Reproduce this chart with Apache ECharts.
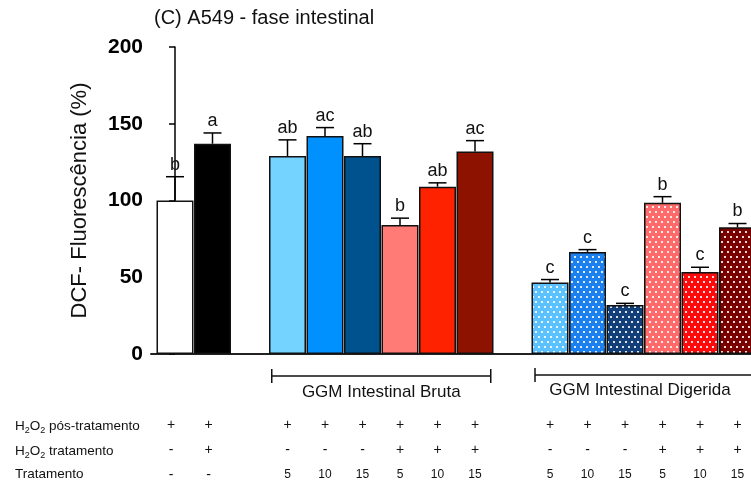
<!DOCTYPE html>
<html><head><meta charset="utf-8">
<script src="https://cdn.jsdelivr.net/npm/echarts@6/dist/echarts.min.js"></script>
<style>html,body{margin:0;padding:0;background:#fff}#c{width:751px;height:486px}</style>
</head><body><div id="c"></div>
<script>
// slot order along the x axis (null = empty gap between groups)
const slots = ['Controle','H2O2',null,
  'Bruta 5','Bruta 10','Bruta 15','Bruta+H2O2 5','Bruta+H2O2 10','Bruta+H2O2 15',null,
  'Digerida 5','Digerida 10','Digerida 15','Digerida+H2O2 5','Digerida+H2O2 10','Digerida+H2O2 15'];
const means   = [100, 137, 129, 142, 129, 84, 109, 132, 46.5, 66.5, 32, 98.5, 53.5, 82.5];
const sem     = [15.5, 7, 10.5, 5.5, 8, 4.5, 2.5, 7, 2, 1.5, 1, 4, 3, 2.5];
const letters = ['b','a','ab','ac','ab','b','ab','ac','c','c','c','b','c','b'];
const rowPosTrat = ['+','+','+','+','+','+','+','+','+','+','+','+','+','+'];
const rowTrat    = ['-','+','-','-','-','+','+','+','-','-','-','+','+','+'];
const rowDose    = ['-','-','5','10','15','5','10','15','5','10','15','5','10','15'];
const yTicks = [0, 50, 100, 150, 200];
const groupBruta = 'GGM Intestinal Bruta';
const groupDigerida = 'GGM Intestinal Digerida';

// styles
const barColors = ['#ffffff','#000000','#75d3ff','#0091ff','#00528f','#ff7b75','#ff2200','#8e1200',
                   '#5cc2ff','#1c80ee','#123f78','#ff6b6b','#ff0a0a','#7a0000'];
const dotted = [false,false,false,false,false,false,false,false,true,true,true,true,true,true];

function dotPattern(base){
  const c = document.createElement('canvas'); c.width = 6; c.height = 10;
  const g = c.getContext('2d');
  g.fillStyle = base; g.fillRect(0,0,6,10);
  g.fillStyle = 'rgba(255,255,255,0.85)';
  g.fillRect(1,1,2,2); g.fillRect(4,6,2,2);
  return {image: c, repeat: 'repeat'};
}

const xs = [];
slots.forEach((s,i)=>{ if(s!==null) xs.push(i); });

const barData = means.map((v,k)=>({
  value:[xs[k], v],
  itemStyle:{color: dotted[k] ? dotPattern(barColors[k]) : barColors[k]}
}));
const errData = means.map((v,k)=>[xs[k], v, sem[k], k]);

const FONT = '"Liberation Sans", Arial, Helvetica, sans-serif';
const chart = echarts.init(document.getElementById('c'), null, {renderer:'canvas'});
chart.setOption({
  animation:false,
  title:{text:'(C) A549 - fase intestinal', left:154, top:8, padding:0,
    textStyle:{fontSize:20, fontWeight:'normal', color:'#111', fontFamily:FONT}},
  grid:{left:151, right:0, top:47, bottom:132},
  xAxis:{type:'value', min:-0.64, max:15.36,
    axisLine:{show:true, lineStyle:{color:'#222', width:2}},
    axisTick:{show:false}, axisLabel:{show:false}, splitLine:{show:false}},
  yAxis:{type:'value', min:yTicks[0], max:yTicks[yTicks.length-1], interval:50,
    name:'DCF- Fluorescência (%)', nameLocation:'middle', nameGap:60,
    nameTextStyle:{fontSize:22, color:'#111', fontFamily:FONT},
    axisLine:{show:true, lineStyle:{color:'#000', width:1.5}},
    axisTick:{show:true, length:6, lineStyle:{color:'#000', width:1.5}},
    axisLabel:{fontSize:21, fontWeight:'bold', color:'#000', margin:8, fontFamily:FONT},
    splitLine:{show:false}},
  series:[
    {type:'bar', data:barData, barWidth:37, clip:true,
      itemStyle:{borderColor:'#111', borderWidth:1.5}},
    {type:'custom', data:errData, z:5,
      renderItem:function(params, api){
        const x = api.value(0), v = api.value(1), e = api.value(2), k = api.value(3);
        const p0 = api.coord([x, v]); const p1 = api.coord([x, v+e]);
        return {type:'group', children:[
          {type:'line', shape:{x1:p0[0], y1:p0[1], x2:p1[0], y2:p1[1]}, style:{stroke:'#000', lineWidth:1.5}},
          {type:'line', shape:{x1:p1[0]-9, y1:p1[1], x2:p1[0]+9, y2:p1[1]}, style:{stroke:'#000', lineWidth:1.5}},
          {type:'text', style:{text:letters[k], x:p1[0], y:p1[1]-3, align:'center', verticalAlign:'bottom',
            fontSize:18, fontFamily:FONT, fill:'#111'}}
        ]};
      }}
  ]
});

const px = v => chart.convertToPixel({xAxisIndex:0}, v);
const g = [];
const rowY = [425, 450, 475];
const rich = {
  n:{fontSize:13.5, fontFamily:FONT, fill:'#111'},
  s:{fontSize:9, fontFamily:FONT, fill:'#111', padding:[8,0,0,0]}
};
const rowLabels = ['{n|H}{s|2}{n|O}{s|2}{n| pós-tratamento}', '{n|H}{s|2}{n|O}{s|2}{n| tratamento}', '{n|Tratamento}'];
rowLabels.forEach((t,r)=>{
  const off = r < 2 ? 5.5 : 8;
  g.push({type:'text', left:15, top:rowY[r]-off, style:{text:t, rich:rich, fill:'#111'}});
});
[rowPosTrat,rowTrat,rowDose].forEach((row,r)=>{
  row.forEach((t,k)=>{
    const isNum = r===2 && t!=='-';
    const shift = k < 2 ? -4 : 0;
    g.push({type:'text', x:px(xs[k])+shift, y:rowY[r], style:{text:t, align:'center', verticalAlign:'middle',
      fontSize: isNum?12:14, fontFamily:FONT, fill:'#111'}});
  });
});
// brackets
const bL = px(xs[2]-0.42), bR = px(xs[7]+0.42);
g.push({type:'line', shape:{x1:bL, y1:376, x2:bR, y2:376}, style:{stroke:'#111', lineWidth:1.5}});
g.push({type:'line', shape:{x1:bL, y1:369, x2:bL, y2:383}, style:{stroke:'#111', lineWidth:1.5}});
g.push({type:'line', shape:{x1:bR, y1:369, x2:bR, y2:383}, style:{stroke:'#111', lineWidth:1.5}});
g.push({type:'text', x:px((xs[2]+xs[7])/2), y:392, style:{text:groupBruta, align:'center', verticalAlign:'middle',
  fontSize:17, fontFamily:FONT, fill:'#111'}});
const dL = px(xs[8]-0.4), dR = px(xs[13]+0.6);
g.push({type:'line', shape:{x1:dL, y1:375, x2:dR, y2:375}, style:{stroke:'#111', lineWidth:1.5}});
g.push({type:'line', shape:{x1:dL, y1:368, x2:dL, y2:382}, style:{stroke:'#111', lineWidth:1.5}});
g.push({type:'text', x:px((xs[8]+xs[13])/2-0.1), y:390, style:{text:groupDigerida, align:'center', verticalAlign:'middle',
  fontSize:17, fontFamily:FONT, fill:'#111'}});
chart.setOption({graphic:g});
</script>
</body></html>
